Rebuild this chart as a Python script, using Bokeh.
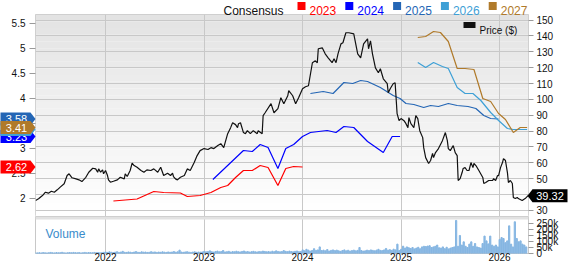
from bokeh.plotting import figure
from bokeh.models import (Range1d, LinearAxis, FixedTicker, Label, PolyAnnotation,
                          BoxAnnotation, Grid)
from bokeh.core.properties import value
from bokeh.layouts import column
from bokeh.embed import file_html
from bokeh.resources import INLINE

FONT = "Liberation Sans"

# ---------------- data ----------------
year_ticks = [2022, 2023, 2024, 2025, 2026]
eps_ticks = [2, 2.5, 3, 3.5, 4, 4.5, 5, 5.5]
price_ticks = [30, 40, 50, 60, 70, 80, 90, 100, 110, 120, 130, 140, 150]
vol_ticks = [0, 50, 100, 150, 200, 250]
vol_tick_labels = ["0", "50k", "100k", "150k", "200k", "250k"]

price_t = [2021.29, 2021.32, 2021.36, 2021.39, 2021.42, 2021.45, 2021.48, 2021.51, 2021.54, 2021.58,
           2021.61, 2021.63, 2021.66, 2021.70, 2021.73, 2021.76, 2021.80, 2021.83, 2021.87, 2021.90,
           2021.92, 2021.93, 2021.95, 2021.97, 2021.98, 2022.00, 2022.02, 2022.03, 2022.05, 2022.08,
           2022.12, 2022.15, 2022.19, 2022.20, 2022.22, 2022.25, 2022.27, 2022.29, 2022.32, 2022.36,
           2022.39, 2022.42, 2022.46, 2022.49, 2022.53, 2022.56, 2022.59, 2022.63, 2022.66, 2022.68,
           2022.69, 2022.71, 2022.73, 2022.76, 2022.80, 2022.83, 2022.86, 2022.90, 2022.93, 2022.96,
           2023.00, 2023.04, 2023.07, 2023.10, 2023.14, 2023.17, 2023.20, 2023.24, 2023.27, 2023.29,
           2023.32, 2023.34, 2023.35, 2023.37, 2023.40, 2023.42, 2023.44, 2023.47, 2023.50, 2023.54,
           2023.55, 2023.59, 2023.60, 2023.62, 2023.68, 2023.71, 2023.75, 2023.78, 2023.81, 2023.85,
           2023.86, 2023.90, 2023.93, 2023.96, 2024.00, 2024.03, 2024.06, 2024.10, 2024.13, 2024.15,
           2024.16, 2024.20, 2024.23, 2024.26, 2024.30, 2024.32, 2024.34, 2024.36, 2024.39, 2024.41,
           2024.44, 2024.47, 2024.51, 2024.52, 2024.56, 2024.59, 2024.62, 2024.66, 2024.67, 2024.69,
           2024.71, 2024.74, 2024.77, 2024.79, 2024.82, 2024.86, 2024.87, 2024.89, 2024.92, 2024.94,
           2024.96, 2024.98, 2025.00, 2025.03, 2025.05, 2025.07, 2025.08, 2025.10, 2025.13, 2025.15,
           2025.17, 2025.19, 2025.22, 2025.23, 2025.25, 2025.28, 2025.30, 2025.32, 2025.33, 2025.35,
           2025.38, 2025.42, 2025.45, 2025.47, 2025.48, 2025.50, 2025.53, 2025.55, 2025.57, 2025.58,
           2025.60, 2025.62, 2025.63, 2025.65, 2025.67, 2025.69, 2025.71, 2025.73, 2025.74, 2025.76,
           2025.79, 2025.83, 2025.84, 2025.86, 2025.89, 2025.93, 2025.94, 2025.96, 2025.98, 2025.99,
           2026.01, 2026.03, 2026.04, 2026.06, 2026.08, 2026.09, 2026.11, 2026.13, 2026.14, 2026.16,
           2026.18, 2026.19, 2026.23, 2026.26, 2026.29]
price_v = [36.3, 37.4, 39.4, 41.5, 40.9, 42.1, 41.5, 43.0, 44.7, 46.8,
           52.0, 53.1, 50.6, 49.9, 49.3, 48.2, 50.9, 54.1, 56.6, 56.2,
           54.1, 56.2, 54.1, 55.6, 53.1, 55.2, 52.0, 49.3, 47.8, 48.4,
           49.3, 50.9, 49.9, 53.1, 51.4, 55.2, 59.8, 58.3, 57.2, 55.2,
           54.1, 55.6, 55.2, 56.2, 54.1, 57.2, 52.0, 53.5, 52.0, 53.5,
           51.4, 49.9, 49.3, 50.9, 52.0, 56.2, 55.2, 60.2, 64.6, 67.7,
           69.0, 68.4, 69.6, 69.0, 70.9, 72.1, 69.6, 78.4, 82.2, 85.3,
           84.1, 82.2, 84.7, 85.3, 79.1, 78.4, 80.3, 78.4, 80.3, 78.4,
           80.3, 78.4, 89.8, 91.6, 97.3, 91.6, 94.2, 101.1, 97.3, 102.3,
           105.5, 102.3, 97.3, 101.1, 106.7, 108.0, 108.6, 123.1, 124.3, 123.1,
           131.9, 132.5, 128.7, 126.2, 123.1, 125.6, 123.1, 128.7, 135.0, 135.7,
           142.0, 142.0, 141.5, 141.3, 128.7, 126.2, 135.0, 138.2, 131.9, 136.9,
           128.7, 119.9, 116.8, 119.3, 113.0, 109.9, 104.2, 106.7, 109.9, 110.5,
           91.0, 86.6, 87.9, 86.6, 84.7, 82.2, 88.5, 84.7, 82.2, 89.8,
           87.9, 80.3, 75.9, 69.6, 63.3, 59.6, 61.5, 65.9, 63.3, 66.5,
           69.0, 74.0, 79.1, 74.0, 69.0, 67.7, 70.9, 66.5, 64.6, 48.9,
           50.1, 53.9, 56.4, 57.0, 55.2, 55.2, 60.2, 57.0, 59.6, 58.3,
           55.2, 50.8, 47.0, 47.6, 48.9, 48.9, 50.1, 48.9, 52.0, 52.0,
           57.0, 60.2, 62.7, 61.5, 53.9, 47.6, 48.9, 47.0, 38.2, 37.5,
           38.2, 37.5, 36.3, 37.5, 39.32]

eps2023_t = [2022.08, 2022.32, 2022.49, 2022.59, 2022.76, 2022.83, 2022.96, 2023.07, 2023.17, 2023.24,
             2023.32, 2023.40, 2023.49, 2023.57, 2023.65, 2023.75, 2023.83, 2023.91, 2024.00]
eps2023_v = [1.94, 1.98, 2.13, 2.11, 2.10, 2.03, 2.05, 2.11, 2.21, 2.25,
             2.41, 2.55, 2.55, 2.65, 2.61, 2.25, 2.59, 2.63, 2.62]

eps2024_t = [2023.09, 2023.40, 2023.49, 2023.57, 2023.65, 2023.75, 2023.83, 2023.91, 2024.00, 2024.08,
             2024.25, 2024.34, 2024.42, 2024.52, 2024.66, 2024.82, 2024.91, 2024.99]
eps2024_v = [2.37, 2.95, 2.93, 3.07, 3.01, 2.59, 2.99, 3.07, 3.23, 3.31,
             3.35, 3.31, 3.43, 3.41, 3.13, 2.91, 3.23, 3.23]

eps2025_t = [2024.08, 2024.21, 2024.31, 2024.42, 2024.51, 2024.59, 2024.66, 2024.79, 2024.92, 2024.99,
             2025.05, 2025.13, 2025.23, 2025.30, 2025.38, 2025.48, 2025.57, 2025.68, 2025.76, 2025.84,
             2025.91, 2025.99]
eps2025_v = [4.09, 4.13, 4.09, 4.31, 4.29, 4.35, 4.33, 4.21, 4.05, 3.99,
             3.89, 3.87, 3.81, 3.85, 3.83, 3.89, 3.85, 3.83, 3.79, 3.65,
             3.59, 3.58]

eps2026_t = [2025.17, 2025.25, 2025.33, 2025.42, 2025.48, 2025.57, 2025.65, 2025.73, 2025.81, 2025.91,
             2025.99, 2026.08, 2026.14, 2026.28]
eps2026_v = [4.71, 4.61, 4.71, 4.63, 4.59, 4.21, 4.09, 4.09, 3.95, 3.71,
             3.55, 3.39, 3.37, 3.37]

eps2027_t = [2025.17, 2025.25, 2025.33, 2025.40, 2025.48, 2025.57, 2025.65, 2025.74, 2025.83, 2025.91,
             2025.99, 2026.06, 2026.14, 2026.21, 2026.28]
eps2027_v = [5.21, 5.23, 5.33, 5.31, 5.13, 4.59, 4.59, 4.57, 3.99, 3.93,
             3.69, 3.57, 3.31, 3.41, 3.41]

vol_start = 2021.29
vol_k = [6, 5, 7, 5, 8, 6, 5, 7, 9, 6, 5, 8, 6, 7, 10, 6, 5, 7, 8, 6, 9, 7, 6, 8, 5, 7, 9, 6, 8, 7,
         6, 9, 7, 8, 6, 7, 10,
         12, 9, 14, 10, 8, 11, 15, 9, 12, 18, 10, 9, 13, 11, 8, 12, 16, 10, 9, 14, 11, 12, 9, 10,
         15, 11, 13, 9, 12, 10, 14, 11, 9, 13, 10, 12, 16, 11, 14, 28, 12, 10, 13, 15, 11, 9, 12, 14,
         10, 12, 11, 13,
         18, 14, 16, 22, 15, 12, 17, 20, 14, 16, 25, 13, 15, 18, 12, 16, 14, 19, 15, 13, 17, 21, 14, 16,
         12, 15, 18, 14, 13, 16, 15, 20, 17, 14, 16, 13, 19, 15, 22, 17, 14, 16, 24, 18, 15, 20, 16, 14,
         18, 21, 15, 17,
         30, 22, 35, 28, 20, 25, 40, 26, 30, 55, 24, 28, 22, 33, 20, 26, 30, 24, 28, 22, 18, 25, 30, 22,
         27, 20, 24, 28, 22, 26, 50, 25, 20, 22, 28, 24, 30, 26, 22, 28, 35, 26, 24, 30, 42, 28, 32, 26,
         36, 30, 78, 25,
         35, 61, 45, 55, 48, 42, 50, 38, 45, 52, 40, 55, 60, 58, 62, 65, 50, 55, 60, 70, 48, 45, 55, 40,
         52, 38, 45, 50, 55,
         275, 60, 150, 70, 97, 60, 50, 78, 97, 60, 83, 55, 50, 45, 83, 145, 105, 80, 145, 70, 60, 70, 55,
         117, 133, 125, 90, 105, 230, 78, 55, 264, 125, 97, 105, 78, 70, 55]
vol_t = [vol_start + i / 52.0 for i in range(len(vol_k))]

series_names = ["2023", "2024", "2025", "2026", "2027"]
series_colors = ["#ff0000", "#0000ff", "#2466b5", "#3ea0d6", "#b07a2a"]
series_t = [eps2023_t, eps2024_t, eps2025_t, eps2026_t, eps2027_t]
series_v = [eps2023_v, eps2024_v, eps2025_v, eps2026_v, eps2027_v]

# ---------------- layout constants ----------------
X0, X1 = 2021.289, 2026.294
PX_PER_YEAR = 98.5
EPS_LO, EPS_HI = 1.63, 5.67
PRICE_LO, PRICE_HI = 26.2, 153.5
VOL_LO, VOL_HI = 0, 308
VOL_PER_PX = VOL_HI / 37.0
GRID = "#c8c8c8"


def xpx(px):
    return X0 + (px - 35) / PX_PER_YEAR


def eps_px(py):
    return 2 + (197.5 - py) / 50.0


def style_axis(ax):
    ax.axis_line_color = None
    ax.major_tick_line_color = "#9a9a9a"
    ax.major_tick_out = 5
    ax.major_tick_in = 0
    ax.minor_tick_line_color = None
    ax.major_label_text_font = FONT
    ax.major_label_text_font_size = "10px"
    ax.major_label_text_color = "#111111"
    ax.major_label_standoff = 3


def otext(p, x, y, s, size, color, align="left", baseline="alphabetic", **kw):
    # text drawn at the overlay level so that it may sit in the plot margins
    p.text(x=[x], y=[y], text=[s], text_font=value(FONT), text_font_size=value(size),
           text_color=color, text_align=align, text_baseline=baseline, level="overlay", **kw)


# ---------------- price / consensus panel ----------------
pA = figure(width=568, height=216, x_range=Range1d(X0, X1), y_range=Range1d(EPS_LO, EPS_HI),
            x_axis_type=None, output_backend="svg", toolbar_location=None,
            min_border_left=35, min_border_right=40, min_border_top=14, min_border_bottom=0,
            background_fill_color="white", border_fill_color="white", outline_line_color=GRID)
pA.extra_y_ranges = {"price": Range1d(PRICE_LO, PRICE_HI)}
pA.ygrid.visible = False

# background gradient (style only)
nb = 30
for k in range(nb):
    lo = EPS_LO + (EPS_HI - EPS_LO) * k / nb
    hi = EPS_LO + (EPS_HI - EPS_LO) * (k + 1) / nb
    g = int(round(255 - 28 * (k + 0.5) / nb))
    pA.add_layout(BoxAnnotation(bottom=lo, top=hi, fill_color="#%02x%02x%02x" % (g, g, g),
                                fill_alpha=1, line_color=None, level="image"))

pA.add_layout(Grid(dimension=1, ticker=FixedTicker(ticks=price_ticks), y_range_name="price",
                   grid_line_color=GRID, grid_line_width=1))
pA.add_layout(Grid(dimension=0, ticker=FixedTicker(ticks=year_ticks),
                   grid_line_color=GRID, grid_line_width=1))

left = pA.yaxis[0]
left.ticker = FixedTicker(ticks=eps_ticks)
left.major_label_overrides = {t: ("%g" % t) for t in eps_ticks}
style_axis(left)
left.major_tick_out = 6
left.major_label_standoff = 4

right = LinearAxis(y_range_name="price", ticker=FixedTicker(ticks=price_ticks))
style_axis(right)
pA.add_layout(right, "right")

for col, t, v in zip(series_colors, series_t, series_v):
    pA.line(t, v, color=col, line_width=1.2)
pA.line(price_t, price_v, y_range_name="price", color="#111111", line_width=1.2)

# top legend
otext(pA, xpx(223), eps_px(10), "Consensus", "12px", "#111111")
for i, (name, col) in enumerate(zip(series_names, series_colors)):
    sl = 297 + 47.8 * i
    pA.quad(left=[xpx(sl)], right=[xpx(sl + 8)], top=[eps_px(1.5)], bottom=[eps_px(9.5)],
            fill_color=col, line_color=None, level="overlay")
    otext(pA, xpx(309 + 47.8 * i), eps_px(10), name, "12px", col)

# Price legend
pA.add_layout(PolyAnnotation(xs=[xpx(463), xpx(475), xpx(475), xpx(463)],
                             ys=[eps_px(21.5), eps_px(21.5), eps_px(27.5), eps_px(27.5)],
                             fill_color="#111111", fill_alpha=1, line_color=None))
pA.add_layout(Label(x=xpx(479), y=eps_px(29.5), text="Price ($)", text_font=FONT,
                    text_font_size="10px", text_color="#111111", text_baseline="alphabetic"))

# left badges (latest consensus values)
h = 6.5 / 50.0
for idx in [2, 1, 3, 4, 0]:
    col = series_colors[idx]
    val = series_v[idx][-1]
    pA.patch([xpx(0), xpx(30), xpx(35), xpx(30), xpx(0)],
             [val + h, val + h, val, val - h, val - h],
             fill_color=col, line_color=None, level="overlay")
    otext(pA, xpx(16), val, "%.2f" % val, "11px", "white", align="center", baseline="middle")

# right price badge
last = price_v[-1]
hp = 6.5 / (202.0 / (PRICE_HI - PRICE_LO))
pA.patch([xpx(527), xpx(532), xpx(567), xpx(567), xpx(532)],
         [last, last + hp, last + hp, last - hp, last - hp],
         y_range_name="price", fill_color="#000000", line_color=None, level="overlay")
otext(pA, xpx(549.5), last, "%.2f" % last, "11px", "white", align="center", baseline="middle",
      y_range_name="price")

# ---------------- volume panel ----------------
pB = figure(width=568, height=48, x_range=pA.x_range, y_range=Range1d(VOL_LO, VOL_HI),
            y_axis_location="right", output_backend="svg",
            toolbar_location=None, min_border_left=35, min_border_right=40,
            min_border_top=0, min_border_bottom=11,
            background_fill_color="white", border_fill_color="white", outline_line_color=GRID)
pB.ygrid.visible = False
pB.xgrid.visible = False
pB.add_layout(Grid(dimension=0, ticker=FixedTicker(ticks=year_ticks),
                   grid_line_color=GRID, grid_line_width=1))
pB.add_layout(BoxAnnotation(bottom=283, top=VOL_HI, fill_color="#e2e2e2", fill_alpha=1,
                            line_color=None, level="underlay"))
vax = pB.yaxis[0]
vax.ticker = FixedTicker(ticks=vol_ticks)
vax.major_label_overrides = dict(zip(vol_ticks, vol_tick_labels))
style_axis(vax)

xax = pB.xaxis[0]
xax.ticker = FixedTicker(ticks=year_ticks)
style_axis(xax)
xax.major_tick_out = 0
xax.major_label_standoff = -1

pB.vbar(x=vol_t, top=vol_k, width=0.65 / 52.0, color="#86b6e2")

pB.add_layout(Label(x=xpx(45), y=(253 - 233) * VOL_PER_PX, text="Volume", text_font=FONT,
                    text_font_size="12px", text_color="#3a8ccb", text_baseline="alphabetic"))

layout = column(pA, pB, spacing=0)
open("out.html", "w").write(file_html(layout, INLINE))
